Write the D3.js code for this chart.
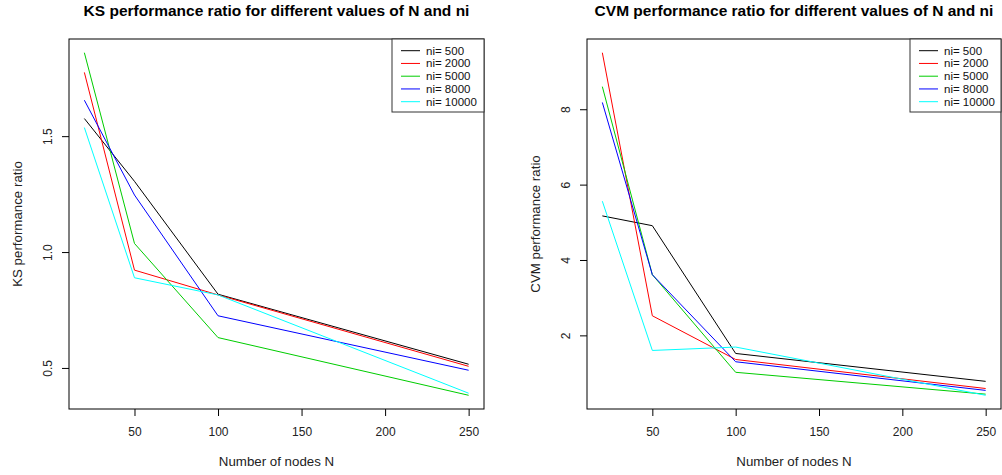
<!DOCTYPE html>
<html>
<head>
<meta charset="utf-8">
<script src="https://cdn.jsdelivr.net/npm/d3@7"></script>
<style>
	body { margin: 0; background: #fff; }
	svg { display: block; font-family: "Liberation Sans", Arial, sans-serif; }
</style>
</head>
<body>
<svg id="chart"></svg>
<script>
'use strict'

// data
var nodes = [20, 50, 100, 250];
var niLabels = ["ni= 500", "ni= 2000", "ni= 5000", "ni= 8000", "ni= 10000"];
var seriesColors = ["#000000", "#ff0000", "#00cd00", "#0000ff", "#00ffff"];

var ksValues = [
	[1.576, 1.305, 0.818, 0.516],
	[1.775, 0.922, 0.815, 0.507],
	[1.860, 1.037, 0.631, 0.382],
	[1.655, 1.246, 0.725, 0.490],
	[1.537, 0.889, 0.815, 0.391]
];

var cvmValues = [
	[5.17, 4.91, 1.52, 0.78],
	[9.50, 2.52, 1.36, 0.59],
	[8.60, 3.61, 1.02, 0.44],
	[8.18, 3.61, 1.30, 0.54],
	[5.56, 1.60, 1.69, 0.41]
];

var xTicks = [50, 100, 150, 200, 250];
var ksTicks = [0.5, 1.0, 1.5];
var cvmTicks = [2, 4, 6, 8];

var WIDTH = 1002,
	HEIGHT = 475;

var svg = d3.select("#chart")
	.attr("width", WIDTH)
	.attr("height", HEIGHT);

// R style 4% padding on both axes
function padded(lo, hi) {
	var p = (hi - lo) * 0.04;
	return [lo - p, hi + p];
}

function drawPanel(opts) {
	var g = svg.append("g");
	var box = opts.box;

	var x = d3.scaleLinear()
		.domain(padded(d3.min(nodes), d3.max(nodes)))
		.range([box.left, box.right]);

	var allVals = d3.merge(opts.values);
	var y = d3.scaleLinear()
		.domain(padded(d3.min(allVals), d3.max(allVals)))
		.range([box.bottom, box.top]);

	// lines
	var line = d3.line()
		.x(function (d, i) { return x(nodes[i]); })
		.y(function (d) { return y(d); });

	g.selectAll(".series")
		.data(opts.values)
		.enter()
		.append("path")
		.attr("d", line)
		.attr("fill", "none")
		.attr("stroke", function (d, i) { return seriesColors[i]; })
		.attr("stroke-width", 1);

	// frame
	g.append("rect")
		.attr("x", box.left)
		.attr("y", box.top)
		.attr("width", box.right - box.left)
		.attr("height", box.bottom - box.top)
		.attr("fill", "none")
		.attr("stroke", "#000")
		.attr("stroke-width", 1);

	// x axis
	var xAxis = d3.axisBottom(x)
		.tickValues(xTicks)
		.tickSize(7)
		.tickPadding(11)
		.tickSizeOuter(0);

	var gx = g.append("g")
		.attr("transform", "translate(0," + box.bottom + ")")
		.call(xAxis);
	gx.select(".domain").remove();
	gx.selectAll("text")
		.attr("font-size", 12)
		.attr("font-family", null)
		.attr("fill", "#222");

	// y axis, labels parallel to the axis like R
	var yAxis = d3.axisLeft(y)
		.tickValues(opts.yTicks)
		.tickFormat(opts.yFormat)
		.tickSize(7)
		.tickSizeOuter(0);

	var gy = g.append("g")
		.attr("transform", "translate(" + box.left + ",0)")
		.call(yAxis);
	gy.select(".domain").remove();
	gy.selectAll("text")
		.attr("font-size", 12)
		.attr("font-family", null)
		.attr("fill", "#222")
		.attr("x", null)
		.attr("dy", null)
		.attr("text-anchor", "middle")
		.attr("transform", "translate(-17,0) rotate(-90)");

	// titles
	var cx = (box.left + box.right) / 2;
	g.append("text")
		.attr("x", cx)
		.attr("y", 16)
		.attr("text-anchor", "middle")
		.attr("font-size", 15.5)
		.attr("font-weight", "bold")
		.text(opts.title);

	g.append("text")
		.attr("x", cx)
		.attr("y", 466)
		.attr("text-anchor", "middle")
		.attr("font-size", 13.3)
		.attr("fill", "#222")
		.text("Number of nodes N");

	g.append("text")
		.attr("transform", "translate(" + (box.left - 47) + "," + ((box.top + box.bottom) / 2) + ") rotate(-90)")
		.attr("text-anchor", "middle")
		.attr("font-size", 13.3)
		.attr("fill", "#222")
		.text(opts.yLabel);

	// legend in the top right corner
	var lg = g.append("g");
	lg.append("rect")
		.attr("x", box.right - opts.legendWidth)
		.attr("y", box.top)
		.attr("width", opts.legendWidth)
		.attr("height", 73)
		.attr("fill", "#fff")
		.attr("stroke", "#333")
		.attr("stroke-width", 1);

	var rows = lg.selectAll(".row")
		.data(niLabels)
		.enter()
		.append("g")
		.attr("transform", function (d, i) {
			return "translate(" + (box.right - opts.legendWidth) + "," + (box.top + 11.7 + i * 12.75) + ")";
		});

	rows.append("line")
		.attr("x1", 9)
		.attr("x2", 28)
		.attr("stroke", function (d, i) { return seriesColors[i]; })
		.attr("stroke-width", 1);

	rows.append("text")
		.attr("x", 34)
		.attr("dy", "0.35em")
		.attr("font-size", 11.5)
		.attr("fill", "#111")
		.text(function (d) { return d; });
}

drawPanel({
	box: { left: 69, right: 484, top: 39, bottom: 409 },
	values: ksValues,
	yTicks: ksTicks,
	yFormat: d3.format(".1f"),
	title: "KS performance ratio for different values of N and ni",
	yLabel: "KS performance ratio",
	legendWidth: 92
});

drawPanel({
	box: { left: 587, right: 1001, top: 39, bottom: 409 },
	values: cvmValues,
	yTicks: cvmTicks,
	yFormat: d3.format("d"),
	title: "CVM performance ratio for different values of N and ni",
	yLabel: "CVM performance ratio",
	legendWidth: 91
});
</script>
</body>
</html>
